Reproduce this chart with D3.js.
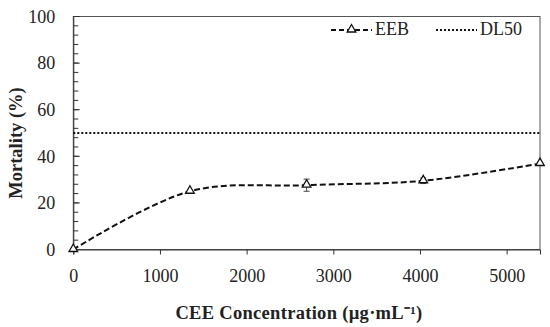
<!DOCTYPE html>
<html><head><meta charset="utf-8">
<script src="https://cdn.jsdelivr.net/npm/d3@7"></script>
<style>body{margin:0;background:#fff}svg{display:block}</style>
</head><body>
<svg id="c" width="550" height="327"></svg>
<script>
const concentrations = [0, 1346, 2692, 4038, 5385];
const mortality = [0, 25, 27.6, 29.5, 36.9];
const errors = [0, 0.5, 2.6, 1.2, 0.5];
const dl50 = 50;
const xTicks = [0, 1000, 2000, 3000, 4000, 5000];
const yTicks = [0, 20, 40, 60, 80, 100];
const seriesNames = ["EEB", "DL50"];

const svg = d3.select("#c");
const m = {l: 73.3, r: 10, t: 16.5, b: 77.5};
const W = 550, H = 327;
const x = d3.scaleLinear().domain([0, 5385]).range([m.l, W - m.r]);
const y = d3.scaleLinear().domain([0, 100]).range([H - m.b, m.t]);
const font = "'Liberation Serif', 'Times New Roman', serif";
const fs = 18;

// border box
svg.append("rect").attr("x", x(0)).attr("y", y(100)).attr("width", x(5385) - x(0)).attr("height", y(0) - y(100))
  .attr("fill", "none").attr("stroke", "#555").attr("stroke-width", 1);

// y axis
const yAxis = d3.axisLeft(y).tickValues(yTicks).tickSize(0).tickPadding(18);
const gy = svg.append("g").attr("transform", `translate(${x(0)},0)`).call(yAxis);
gy.select(".domain").attr("stroke", "#333");
gy.selectAll("text").attr("font-family", font).attr("font-size", fs).attr("fill", "#222");
// inner ticks
const minor = d3.range(0, 101, 4);
svg.append("g").selectAll("line").data(minor).join("line")
  .attr("x1", x(0)).attr("x2", x(0) + 5).attr("y1", d => y(d)).attr("y2", d => y(d)).attr("stroke", "#333");
svg.append("g").selectAll("line").data(yTicks).join("line")
  .attr("x1", x(0)).attr("x2", x(0) + 6.5).attr("y1", d => y(d)).attr("y2", d => y(d)).attr("stroke", "#333");

// x axis
const xAxis = d3.axisBottom(x).tickValues(xTicks).tickSize(5).tickPadding(15).tickFormat(d3.format("d"));
const gx = svg.append("g").attr("transform", `translate(0,${y(0)})`).call(xAxis);
gx.select(".domain").attr("stroke", "#333");
gx.selectAll(".tick line").attr("stroke", "#333");
gx.selectAll("text").attr("font-family", font).attr("font-size", fs).attr("fill", "#222");

// DL50
svg.append("line").attr("x1", x(0)).attr("x2", x(5385)).attr("y1", y(dl50)).attr("y2", y(dl50))
  .attr("stroke", "#111").attr("stroke-width", 2).attr("stroke-dasharray", "2,2");

// error bars
const pts = concentrations.map((c, i) => ({c, v: mortality[i], e: errors[i]}));
const eg = svg.append("g").attr("stroke", "#444").attr("stroke-width", 1);
pts.filter(p => p.e > 0.8).forEach(p => {
  eg.append("line").attr("x1", x(p.c)).attr("x2", x(p.c)).attr("y1", y(p.v - p.e)).attr("y2", y(p.v + p.e));
  eg.append("line").attr("x1", x(p.c) - 3).attr("x2", x(p.c) + 3).attr("y1", y(p.v - p.e)).attr("y2", y(p.v - p.e));
  eg.append("line").attr("x1", x(p.c) - 3).attr("x2", x(p.c) + 3).attr("y1", y(p.v + p.e)).attr("y2", y(p.v + p.e));
});

// series line
const line = d3.line().x(p => x(p.c)).y(p => y(p.v)).curve(d3.curveCatmullRom.alpha(0.5));
svg.append("path").datum(pts).attr("d", line).attr("fill", "none").attr("stroke", "#111")
  .attr("stroke-width", 2).attr("stroke-dasharray", "6,3");

// markers
const tri = d3.symbol().type(d3.symbolTriangle).size(32);
svg.append("g").selectAll("path").data(pts).join("path")
  .attr("d", tri).attr("transform", p => `translate(${x(p.c)},${y(p.v) - 0.5})`)
  .attr("fill", "#fff").attr("stroke", "#111").attr("stroke-width", 1.3);

// legend
const ly = 30;
svg.append("line").attr("x1", 331).attr("x2", 372).attr("y1", ly).attr("y2", ly)
  .attr("stroke", "#111").attr("stroke-width", 2).attr("stroke-dasharray", "5,3");
svg.append("path").attr("d", tri).attr("transform", `translate(351.5,${ly - 0.5})`)
  .attr("fill", "#fff").attr("stroke", "#111").attr("stroke-width", 1.3);
svg.append("text").attr("x", 375).attr("y", ly + 5).text(seriesNames[0])
  .attr("font-family", font).attr("font-size", fs).attr("fill", "#222");
svg.append("line").attr("x1", 436).attr("x2", 477).attr("y1", ly).attr("y2", ly)
  .attr("stroke", "#111").attr("stroke-width", 2).attr("stroke-dasharray", "2,2");
svg.append("text").attr("x", 480).attr("y", ly + 5).text(seriesNames[1])
  .attr("font-family", font).attr("font-size", fs).attr("fill", "#222");

// axis titles
svg.append("text").attr("x", 299).attr("y", 319).attr("text-anchor", "middle")
  .attr("font-family", font).attr("font-size", 18.5).attr("font-weight", "bold").attr("fill", "#222")
  .attr("letter-spacing", 0.3)
  .text("CEE Concentration (µg·mL⁻¹)");
svg.append("text").attr("transform", `translate(22,143) rotate(-90)`).attr("text-anchor", "middle")
  .attr("font-family", font).attr("font-size", 18.5).attr("font-weight", "bold").attr("fill", "#222")
  .text("Mortality (%)");
</script>
</body></html>
